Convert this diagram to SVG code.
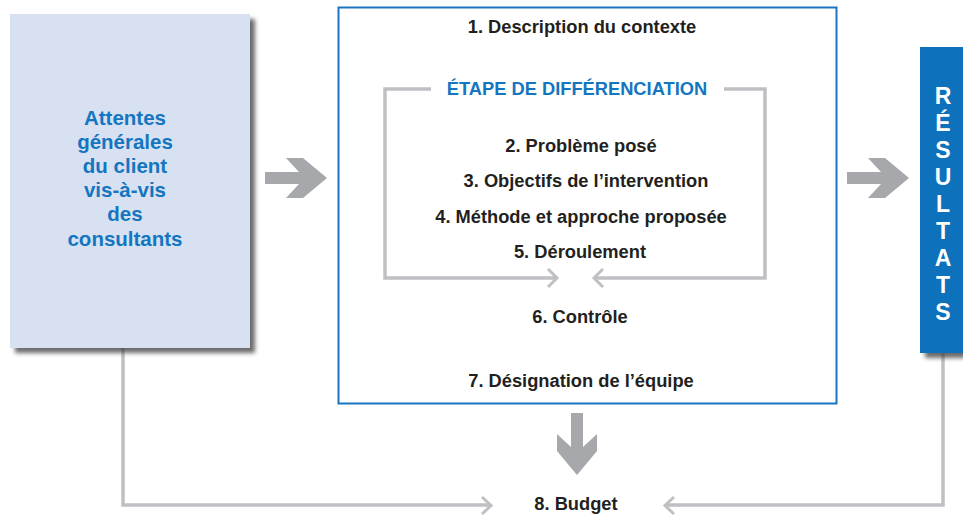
<svg xmlns="http://www.w3.org/2000/svg" width="963" height="515" viewBox="0 0 963 515">
  <defs>
    <filter id="shadow" x="-10%" y="-10%" width="130%" height="130%">
      <feDropShadow dx="5" dy="5" stdDeviation="2.2" flood-color="#3a3a3a" flood-opacity="0.75"/>
    </filter>
    <!-- block arrow pointing right, origin at the tail, centred on y=0 -->
    <path id="block-arrow" d="M0,-6 H34 L21,-20 H38 L62,0 L38,20 H21 L34,6 H0 Z"/>
  </defs>
  <style>
    .txt { font-family: "Liberation Sans", Arial, sans-serif; font-weight: bold; font-size: 18.3px; fill: #231f20; text-anchor: middle; }
    .blue { fill: #1476c0; }
    .side { font-family: "Liberation Sans", Arial, sans-serif; font-weight: bold; font-size: 20.5px; fill: #1476c0; text-anchor: middle; }
    .vert { font-family: "Liberation Sans", Arial, sans-serif; font-weight: bold; font-size: 23px; fill: #ffffff; text-anchor: middle; }
    .line { fill: none; stroke: #bfc0c3; stroke-width: 3.5; stroke-linejoin: miter; }
    .head { fill: none; stroke: #bfc0c3; stroke-width: 3; stroke-linejoin: miter; }
    .big { fill: #a7a8ab; }
  </style>

  <rect width="963" height="515" fill="#ffffff"/>

  <!-- connectors -->
  <g id="connectors">
    <!-- client expectations to budget -->
    <path class="line" d="M123,348 V505 H489"/>
    <path class="head" d="M482,497 L491,505.5 L482,514"/>
    <!-- results to budget -->
    <path class="line" d="M943,352 V505 H667"/>
    <path class="head" d="M674,497 L665,505.5 L674,514"/>
    <!-- big grey arrows -->
    <use href="#block-arrow" class="big" transform="translate(265,178)"/>
    <use href="#block-arrow" class="big" transform="translate(847,178)"/>
    <use href="#block-arrow" class="big" transform="translate(577,413) rotate(90)"/>
  </g>

  <!-- client expectations -->
  <g id="node-attentes">
    <rect x="10" y="14" width="240" height="334" fill="#d7e1f1" filter="url(#shadow)"/>
    <text class="side" x="125" y="125">Attentes</text>
    <text class="side" x="125" y="149">générales</text>
    <text class="side" x="125" y="173">du client</text>
    <text class="side" x="125" y="197">vis-à-vis</text>
    <text class="side" x="125" y="221">des</text>
    <text class="side" x="125" y="246">consultants</text>
  </g>

  <!-- proposal contents -->
  <g id="node-proposition">
    <rect x="338.5" y="7.5" width="498" height="396" fill="#ffffff" stroke="#1a74c0" stroke-width="2"/>
    <text class="txt" x="582" y="33">1. Description du contexte</text>
    <text class="txt" x="581" y="387">7. Désignation de l’équipe</text>
    <text class="txt" x="580" y="323">6. Contrôle</text>
  </g>

  <!-- differentiation stage -->
  <g id="node-differenciation">
    <path class="line" d="M431,89 H385 V278 H556"/>
    <path class="head" d="M548,269 L557,278 L548,287"/>
    <path class="line" d="M724,89 H765 V278 H596"/>
    <path class="head" d="M603,269 L594,278 L603,287"/>
    <text class="txt blue" x="577" y="95" font-size="18px">ÉTAPE DE DIFFÉRENCIATION</text>
    <text class="txt" x="581" y="152">2. Problème posé</text>
    <text class="txt" x="586" y="187">3. Objectifs de l’intervention</text>
    <text class="txt" x="581" y="223">4. Méthode et approche proposée</text>
    <text class="txt" x="580" y="258">5. Déroulement</text>
  </g>

  <!-- results -->
  <g id="node-resultats">
    <rect x="920" y="47" width="50" height="306" fill="#0a71bb" filter="url(#shadow)"/>
    <text class="vert" x="943" y="104">R</text>
    <text class="vert" x="943" y="131">É</text>
    <text class="vert" x="943" y="158">S</text>
    <text class="vert" x="943" y="185">U</text>
    <text class="vert" x="943" y="212">L</text>
    <text class="vert" x="943" y="239">T</text>
    <text class="vert" x="943" y="266">A</text>
    <text class="vert" x="943" y="293">T</text>
    <text class="vert" x="943" y="320">S</text>
  </g>

  <!-- budget -->
  <g id="node-budget">
    <text class="txt" x="576" y="510">8. Budget</text>
  </g>
</svg>
